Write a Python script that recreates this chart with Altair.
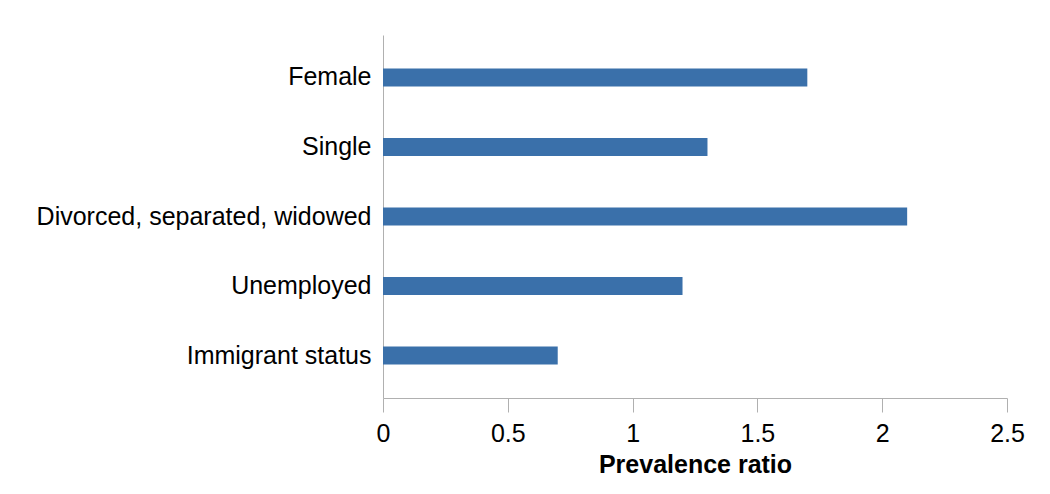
import altair as alt
import pandas as pd

categories = ["Female", "Single", "Divorced, separated, widowed", "Unemployed", "Immigrant status"]
values = [1.7, 1.3, 2.1, 1.2, 0.7]

df = pd.DataFrame({"category": categories, "ratio": values})

FONT = "Liberation Sans"

chart = alt.Chart(df).mark_bar(color="#3a70aa").encode(
    x=alt.X(
        "ratio:Q",
        scale=alt.Scale(domain=[0, 2.5], nice=False),
        axis=alt.Axis(
            values=[0, 0.5, 1, 1.5, 2, 2.5],
            title="Prevalence ratio",
            grid=False,
            tickSize=14,
            tickColor="#b0b0b0",
            domainColor="#b0b0b0",
            labelFontSize=25,
            labelColor="#000000",
            labelFont=FONT,
            labelPadding=9,
            titleFont=FONT,
            titleFontSize=25,
            titleFontWeight="bold",
            titleColor="#000000",
            titlePadding=6,
            labelFlush=False,
            format="~g",
        ),
    ),
    y=alt.Y(
        "category:N",
        sort=categories,
        scale=alt.Scale(paddingInner=0.74, paddingOuter=0.48),
        axis=alt.Axis(
            title=None,
            ticks=False,
            domainColor="#b0b0b0",
            labelFontSize=25,
            labelColor="#000000",
            labelFont=FONT,
            labelPadding=12,
            labelLimit=500,
        ),
    ),
).properties(
    width=624,
    height=363,
    autosize=alt.AutoSizeParams(type="none"),
    padding={"left": 375, "top": 27, "right": 35, "bottom": 88},
).configure_view(stroke=None)

chart.save("out.html", embed_options={"renderer": "svg", "actions": False})
